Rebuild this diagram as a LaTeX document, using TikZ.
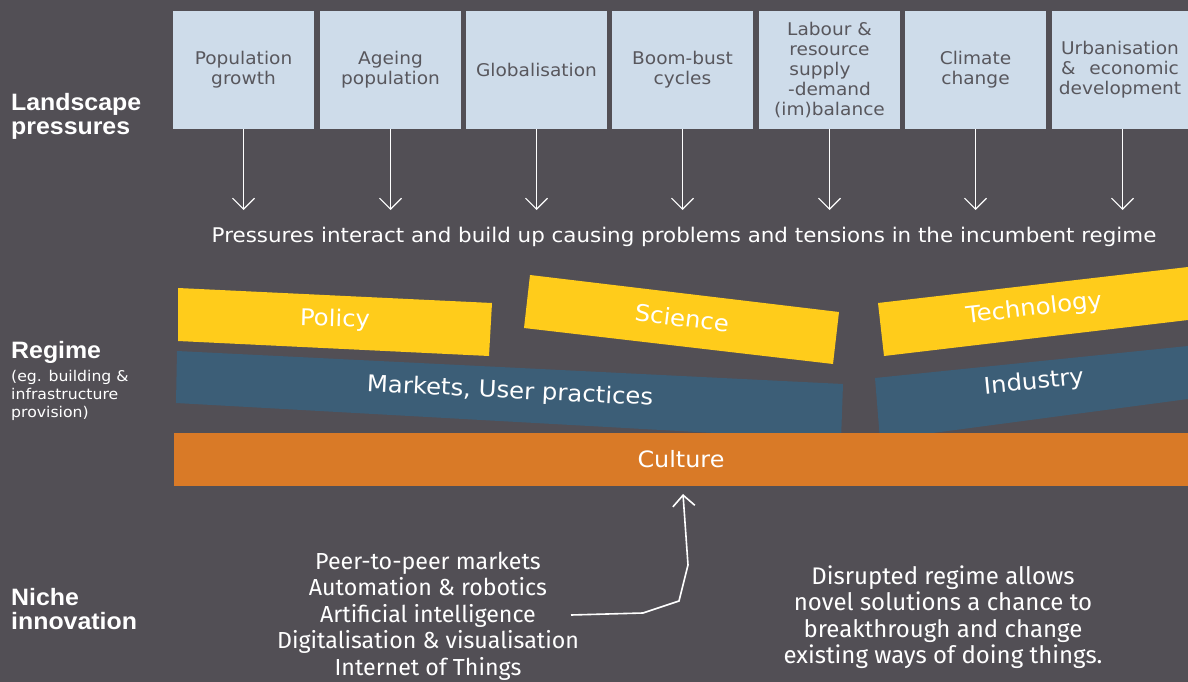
\documentclass[tikz,border=0pt]{standalone}
\usepackage{fontspec}
\usepackage{calc}
\setmainfont{DejaVu Sans}[FakeStretch=1.06]
\newfontfamily\labf{Liberation Sans}[FakeStretch=1.05]
\newfontfamily\trebf{Fira Sans}
\usetikzlibrary{arrows.meta}
\definecolor{bg}{HTML}{524F55}
\definecolor{boxc}{HTML}{CEDCEA}
\definecolor{boxt}{HTML}{58575D}
\definecolor{yel}{HTML}{FFCC1B}
\definecolor{blu}{HTML}{3C5E77}
\definecolor{ora}{HTML}{D97A27}
\tikzset{
  pbox/.style={fill=boxc, text=boxt, minimum width=141pt, minimum height=118pt, inner sep=0pt, align=center, font=\fontsize{17.5}{20}\selectfont},
  parr/.style={white, line width=1.1pt, -{Straight Barb[length=11pt,width=22pt,line width=1.1pt]}},
  bartext/.style={text=white, inner sep=0pt, font=\fontsize{23}{26}\selectfont},
  lab/.style={text=white, anchor=west, align=left, inner sep=0pt, font=\labf\bfseries\fontsize{23.7}{24}\selectfont},
  sublab/.style={text=white, anchor=north west, align=left, inner sep=0pt, font=\fontsize{14.8}{18}\selectfont},
  btext/.style={text=white, align=center, inner sep=0pt, font=\trebf\fontsize{23.2}{26.5}\selectfont},
}
\begin{document}
\begin{tikzpicture}[x=1pt,y=-1pt]
\fill[bg] (0,0) rectangle (1188,682);
\useasboundingbox (0,0) rectangle (1188,682);
% top boxes
\node[pbox] (p1) at (243.5,70) {Population\\growth};
\node[pbox] (p2) at (390.5,70) {Ageing\\population};
\node[pbox] (p3) at (536.5,70) {Globalisation};
\node[pbox] (p4) at (682.5,70) {Boom-bust\\cycles};
\node[pbox] (p5) at (829.5,70) {Labour \&\\resource\\\makebox[\widthof{resource}][l]{supply}\\-demand\\(im)balance};
\node[pbox] (p6) at (975.5,70) {Climate\\change};
\node[pbox, minimum width=136pt] (p7) at (1120,70) {Urbanisation\\\makebox[\widthof{Urbanisation}][s]{\& economic}\\development};
% arrows
\foreach \i/\x in {1/243.5,2/390.5,3/536.5,4/682.5,5/829.5,6/975.5,7/1122.5}{
  \coordinate (e\i) at (\x,210);
  \draw[parr] (p\i.south -| e\i) -- (e\i);
}
\node[text=white, inner sep=0pt, font=\fontsize{20.2}{22}\selectfont] (press) at (684,237) {Pressures interact and build up causing problems and tensions in the incumbent regime};
% left labels
\node[lab] (land) at (11,116) {Landscape\\pressures};
\node[lab] (reg) at (11,352) {Regime};
\node[sublab] (regsub) at (11,370) {(eg. building \&\\infrastructure\\provision)};
\node[lab] (niche) at (11,609) {Niche\\innovation};
% regime bars
\fill[blu] (177,351) -- (843,384) -- (841,440) -- (176,403) -- cycle;
\fill[blu] (875,378) -- (1188,346) -- (1188,399) -- (880,440) -- cycle;
\fill[yel] (178,288) -- (492,303) -- (489,356) -- (178,341) -- cycle;
\fill[yel] (530,275) -- (839,312) -- (833,364) -- (524,328) -- cycle;
\fill[yel] (878,303) -- (1188,267) -- (1188,320) -- (884,356) -- cycle;
\node[bartext, rotate=-1.5] (policy) at (335,320) {Policy};
\node[bartext, rotate=-6.8] (science) at (682,318) {Science};
\node[bartext, rotate=6.6] (tech) at (1034,309) {Technology};
\node[bartext, rotate=-2.8] (markets) at (510,392) {Markets, User practices};
\node[bartext, rotate=5.5] (industry) at (1034,383) {Industry};
\node[fill=ora, text=white, minimum width=1014pt, minimum height=53pt, inner sep=0pt, font=\fontsize{22.5}{26}\selectfont] (culture) at (681,459.5) {Culture};
% niche
\node[btext] (list) at (428,616) {Peer-to-peer markets\\Automation \& robotics\\Artificial intelligence\\Digitalisation \& visualisation\\Internet of Things};
\node[btext, font=\trebf\fontsize{24}{26.5}\selectfont] (disr) at (943,617) {Disrupted regime allows\\novel solutions a chance to\\breakthrough and change\\existing ways of doing things.};
\coordinate (a0) at (571,615);
\coordinate (a1) at (643,613);
\coordinate (a2) at (679,601);
\coordinate (a3) at (688,565);
\coordinate (a4) at (683,494);
\draw[parr, line width=1.6pt, -{Straight Barb[length=11pt,width=22pt,line width=1.6pt]}] (a0) -- (a1) -- (a2) -- (a3) -- (a4);
\end{tikzpicture}
\end{document}
